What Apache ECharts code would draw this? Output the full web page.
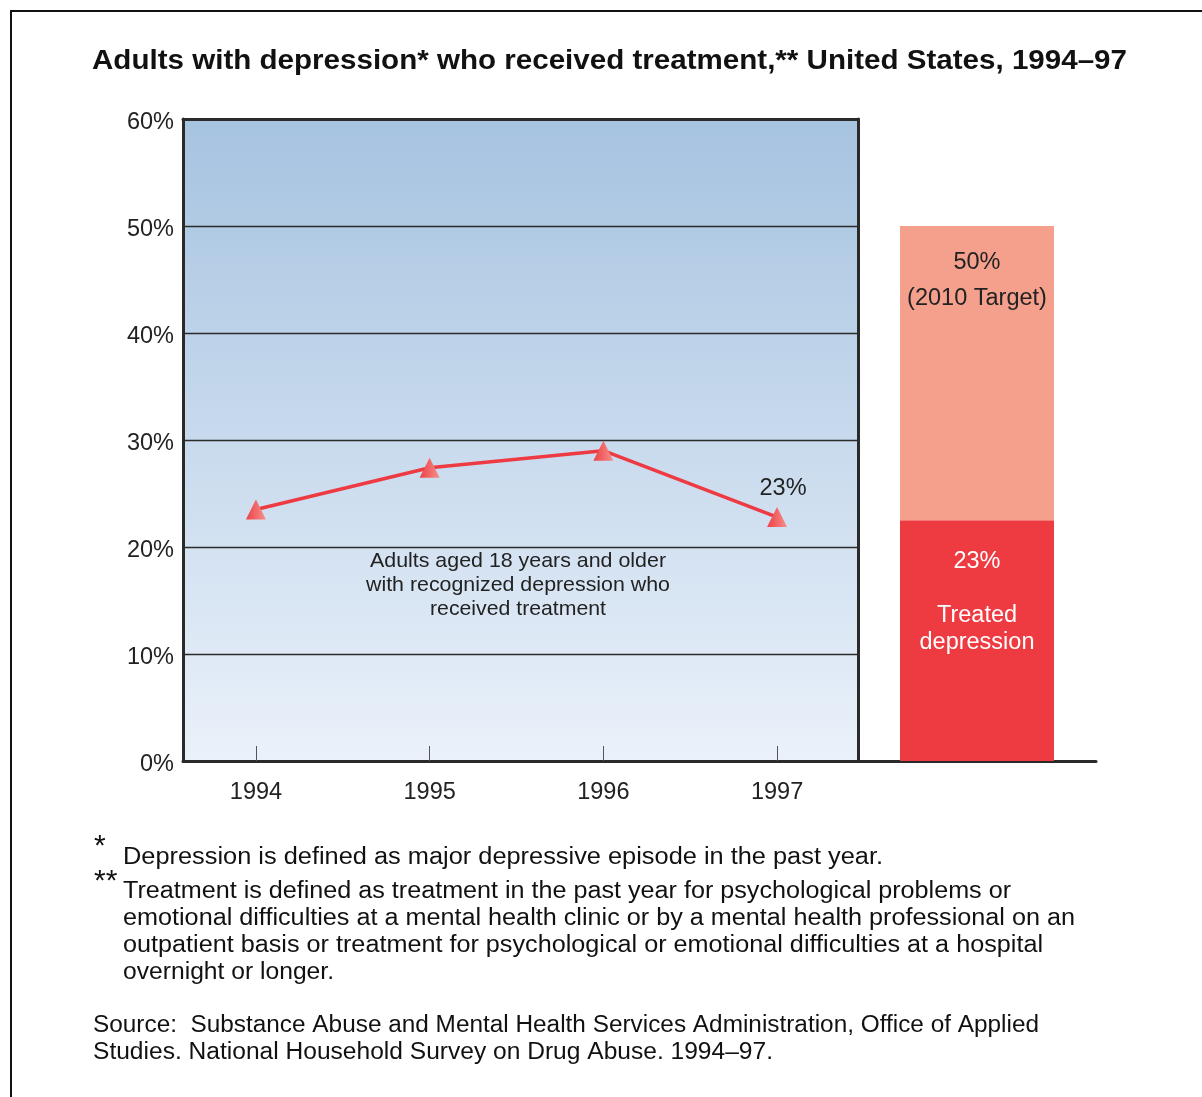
<!DOCTYPE html>
<html><head><meta charset="utf-8">
<script src="https://cdn.jsdelivr.net/npm/echarts@6/dist/echarts.min.js"></script>
<style>html,body{margin:0;padding:0;background:#fff}#c{width:1202px;height:1097px}</style>
</head><body><div id="c"></div>
<script>
const years = [1994, 1995, 1996, 1997];
const treatedPct = [23.5, 27.4, 29.0, 22.8];
const barCategory = ['2010'];
const treated1997 = [22.5];
const target2010 = [50];
const titleText = 'Adults with depression* who received treatment,** United States, 1994\u201397';
const noteText = ['Adults aged 18 years and older', 'with recognized depression who', 'received treatment'];
const footnote1 = 'Depression is defined as major depressive episode in the past year.';
const footnote2 = ['Treatment is defined as treatment in the past year for psychological problems or',
  'emotional difficulties at a mental health clinic or by a mental health professional on an',
  'outpatient basis or treatment for psychological or emotional difficulties at a hospital',
  'overnight or longer.'];
const sourceLines = ['Source:  Substance Abuse and Mental Health Services Administration, Office of Applied',
  'Studies. National Household Survey on Drug Abuse. 1994\u201397.'];

const FONT = '"Liberation Sans", Arial, Helvetica, sans-serif';
const chart = echarts.init(document.getElementById('c'), null, {renderer: 'canvas'});

const mctx = document.createElement('canvas').getContext('2d');
function fitText(text, x, y, font, width, align, fill) {
  mctx.font = font;
  const w = mctx.measureText(text).width;
  return {type: 'text', x: x, y: y, scaleX: width / w, style: {text: text, font: font, fill: fill, align: align, verticalAlign: 'middle'}};
}

const remaining = target2010.map((t, i) => t - treated1997[i]);
const graphics = [];
graphics.push({type: 'polyline', shape: {points: [[11, 1097], [11, 11], [1202, 11]]}, style: {stroke: '#111', lineWidth: 2, fill: null}});
graphics.push(fitText(titleText, 609.5, 61, 'bold 28px ' + FONT, 1035, 'center', '#111'));
const noteWidths = [296, 304, 176];
noteText.forEach((t, i) => graphics.push(fitText(t, 518, 561 + i * 24, '21px ' + FONT, noteWidths[i], 'center', '#222')));
graphics.push({type: 'text', x: 94, y: 847, style: {text: '*', font: '30px ' + FONT, fill: '#111', verticalAlign: 'middle'}});
graphics.push(fitText(footnote1, 123, 858, '23.5px ' + FONT, 760, 'left', '#111'));
graphics.push({type: 'text', x: 94, y: 882, style: {text: '**', font: '30px ' + FONT, fill: '#111', verticalAlign: 'middle'}});
const fn2Widths = [888, 952, 920, 211];
footnote2.forEach((t, i) => graphics.push(fitText(t, 123, 892 + i * 26.7, '23.5px ' + FONT, fn2Widths[i], 'left', '#111')));
const srcWidths = [946, 680];
sourceLines.forEach((t, i) => graphics.push(fitText(t, 93, 1026 + i * 27, '23.5px ' + FONT, srcWidths[i], 'left', '#111')));

const option = {
  animation: false,
  textStyle: {fontFamily: FONT},
  grid: [
    {left: 183, right: 344, top: 119, bottom: 336, show: true, borderWidth: 0,
     backgroundColor: new echarts.graphic.LinearGradient(0, 0, 0, 1, [{offset: 0, color: '#A6C3E0'}, {offset: 1, color: '#EAF1FA'}])},
    {left: 858, right: 106, top: 119, bottom: 336}
  ],
  xAxis: [
    {gridIndex: 0, type: 'value', min: 1993.58, max: 1997.466, position: 'bottom',
     axisLine: {show: true, lineStyle: {color: '#2a2a2a', width: 3}},
     axisTick: {show: true, inside: true, length: 15, customValues: years, lineStyle: {color: '#555', width: 1}},
     axisLabel: {show: true, customValues: years, formatter: v => String(v), fontSize: 23.5, color: '#222', margin: 20},
     splitLine: {show: false}},
    {gridIndex: 0, type: 'value', min: 1993.58, max: 1997.466, position: 'top',
     axisLine: {show: true, onZero: false, lineStyle: {color: '#2a2a2a', width: 3}},
     axisTick: {show: false}, axisLabel: {show: false}, splitLine: {show: false}},
    {gridIndex: 1, type: 'category', data: barCategory,
     axisLine: {show: true, lineStyle: {color: '#2a2a2a', width: 3}},
     axisTick: {show: false}, axisLabel: {show: false}}
  ],
  yAxis: [
    {gridIndex: 0, type: 'value', min: 0, max: 60, interval: 10,
     axisLine: {show: true, lineStyle: {color: '#2a2a2a', width: 3}},
     axisTick: {show: false},
     axisLabel: {formatter: v => '{a|' + v + '%}', color: '#222', margin: 9,
                 rich: {a: {fontSize: 23.5, color: '#222', fontFamily: FONT, padding: [7, 0, 0, 0]}}},
     splitLine: {show: true, lineStyle: {color: '#2a2a2a', width: 1.3}}},
    {gridIndex: 0, type: 'value', min: 0, max: 60, position: 'right',
     axisLine: {show: true, lineStyle: {color: '#2a2a2a', width: 3}},
     axisTick: {show: false}, axisLabel: {show: false}, splitLine: {show: false}},
    {gridIndex: 1, type: 'value', min: 0, max: 60, show: false}
  ],
  series: [
    {type: 'line', xAxisIndex: 0, yAxisIndex: 0,
     data: years.map((y, i) => i === years.length - 1 ? {value: [y, treatedPct[i]], label: {show: true, position: 'top', distance: 7, offset: [6, 0], formatter: '23%', fontSize: 23.5, color: '#222'}} : [y, treatedPct[i]]),
     lineStyle: {color: '#EE3B43', width: 3.5},
     symbol: 'triangle', symbolSize: 20,
     itemStyle: {color: new echarts.graphic.LinearGradient(0, 0, 1, 0, [{offset: 0, color: '#EE4045'}, {offset: 1, color: '#F5908C'}])},
     z: 5},
    {type: 'bar', xAxisIndex: 2, yAxisIndex: 2, stack: 'b', barWidth: 154, data: treated1997,
     itemStyle: {color: '#EE3B42'},
     label: {show: true, position: 'insideTop', distance: 28, color: '#fff', fontSize: 23.5, lineHeight: 27,
             formatter: '23%\n\nTreated\ndepression'}},
    {type: 'bar', xAxisIndex: 2, yAxisIndex: 2, stack: 'b', barWidth: 154, data: remaining,
     itemStyle: {color: '#F5A08C'},
     label: {show: true, position: 'insideTop', distance: 19, color: '#222', fontSize: 23.5, lineHeight: 36,
             formatter: '50%\n(2010 Target)'}}
  ],
  graphic: graphics
};
chart.setOption(option);
</script></body></html>
